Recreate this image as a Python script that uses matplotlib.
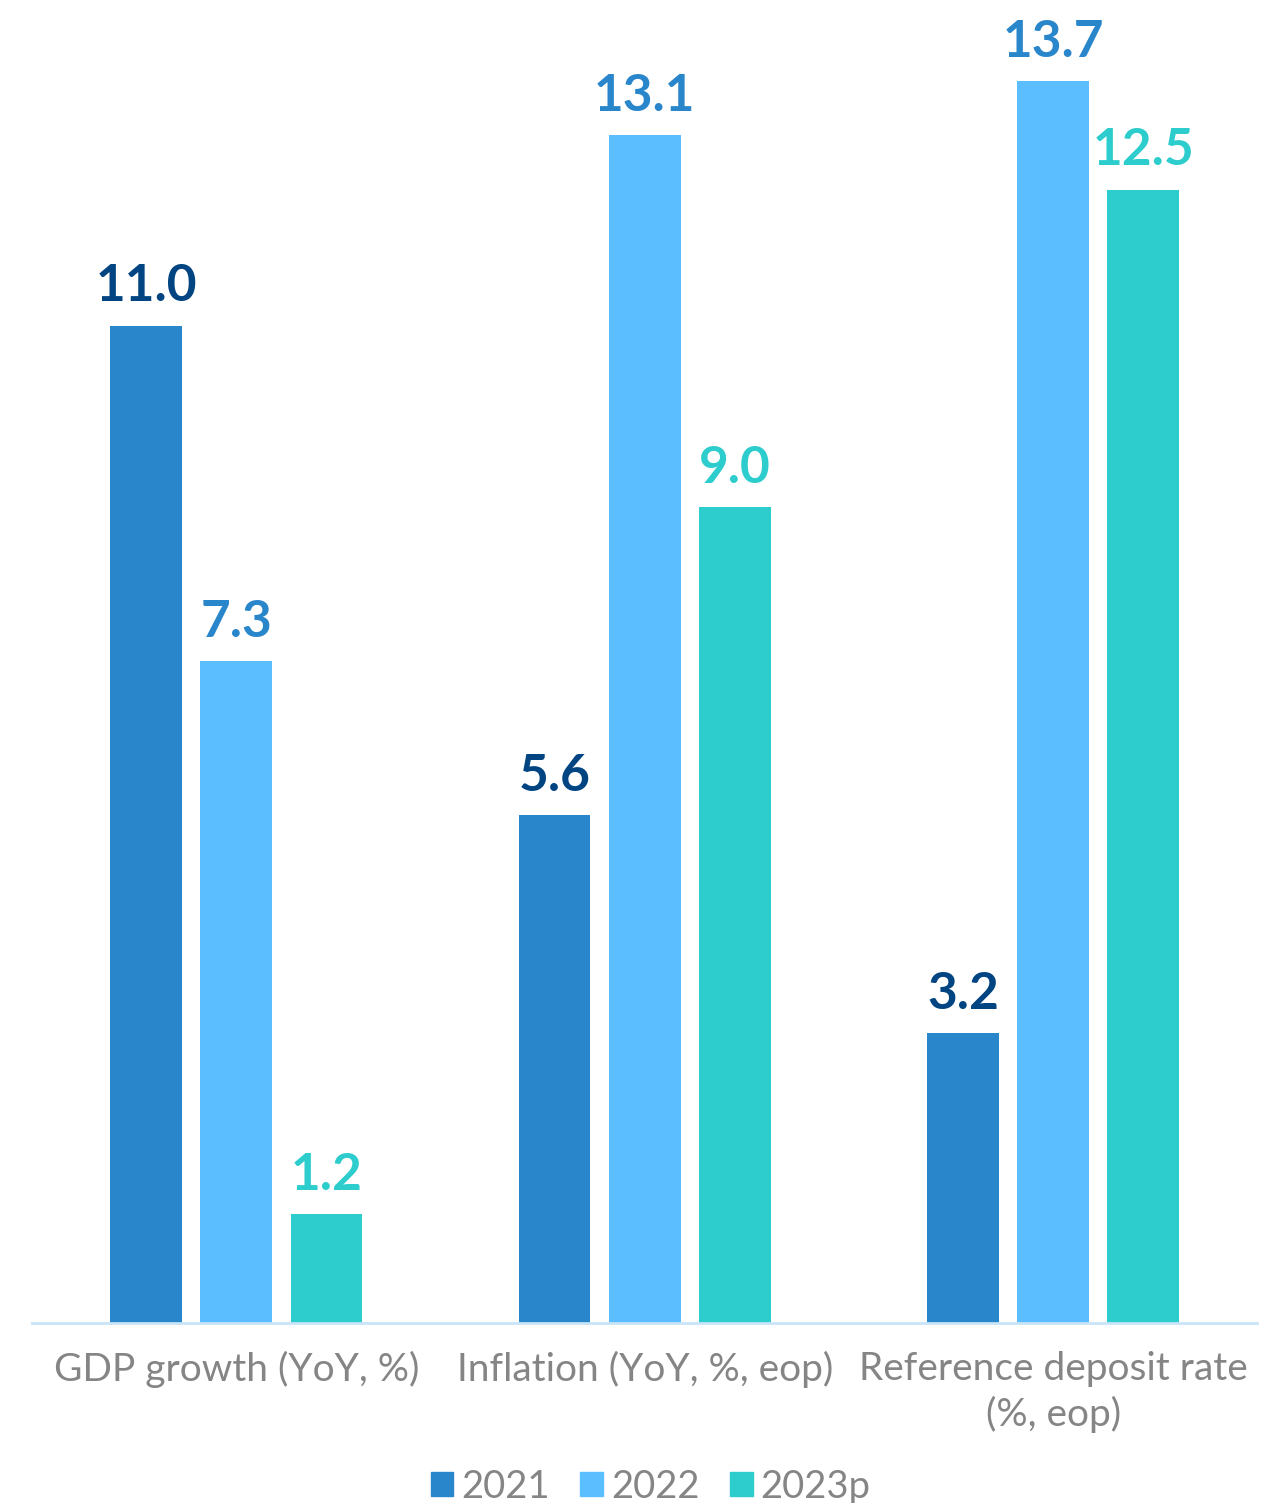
import numpy as np
import matplotlib.pyplot as plt
from matplotlib.patches import Patch

categories = ["GDP growth (YoY, %)", "Inflation (YoY, %, eop)", "Reference deposit rate\n(%, eop)"]
years = ["2021", "2022", "2023p"]
v2021 = [11.0, 5.6, 3.2]
v2022 = [7.3, 13.1, 13.7]
v2023 = [1.2, 9.0, 12.5]

bar_colors = ["#2a86ca", "#5bbeff", "#2dcccd"]
label_colors = ["#004481", "#2a86ca", "#2dcccd"]

plt.rcParams['font.family'] = ['Lato', 'DejaVu Sans']

fig = plt.figure(figsize=(12.83, 15.03), dpi=100)
ax = fig.add_axes([0.025, 0.1198, 0.955, 0.880])

x = np.arange(len(categories))
width = 0.176
step = 0.221

for i, (vals, bc, lc) in enumerate(zip([v2021, v2022, v2023], bar_colors, label_colors)):
    pos = x + (i - 1) * step
    ax.bar(pos, vals, width, color=bc, label=years[i])
    for p, v in zip(pos, vals):
        ax.annotate(f"{v:.1f}", (p, v), xytext=(0, 11), textcoords='offset points',
                    ha='center', va='bottom', fontsize=37, fontweight='bold', color=lc)

ax.set_xlim(-0.5, 2.5)
ax.set_ylim(0, 14.59)
ax.set_yticks([])
for s in ['top', 'right', 'left']:
    ax.spines[s].set_visible(False)
ax.spines['bottom'].set_color('#c8e4f8')
ax.spines['bottom'].set_linewidth(2)
ax.set_xticks(x)
ax.set_xticklabels(categories, fontsize=28, color='#858585', linespacing=1.3)
ax.tick_params(axis='x', length=0, pad=20)

# legend squares close to their text, tight columns
handles = [Patch(color=c) for c in bar_colors]
fig.legend(handles, years, loc='lower center', bbox_to_anchor=(0.507, -0.024), ncol=3,
           frameon=False, handlelength=0.6, handleheight=0.6,
           handletextpad=0.2, columnspacing=0.8,
           prop={'size': 27.5}, labelcolor='#858585')

fig.savefig("out.png", dpi=100)
